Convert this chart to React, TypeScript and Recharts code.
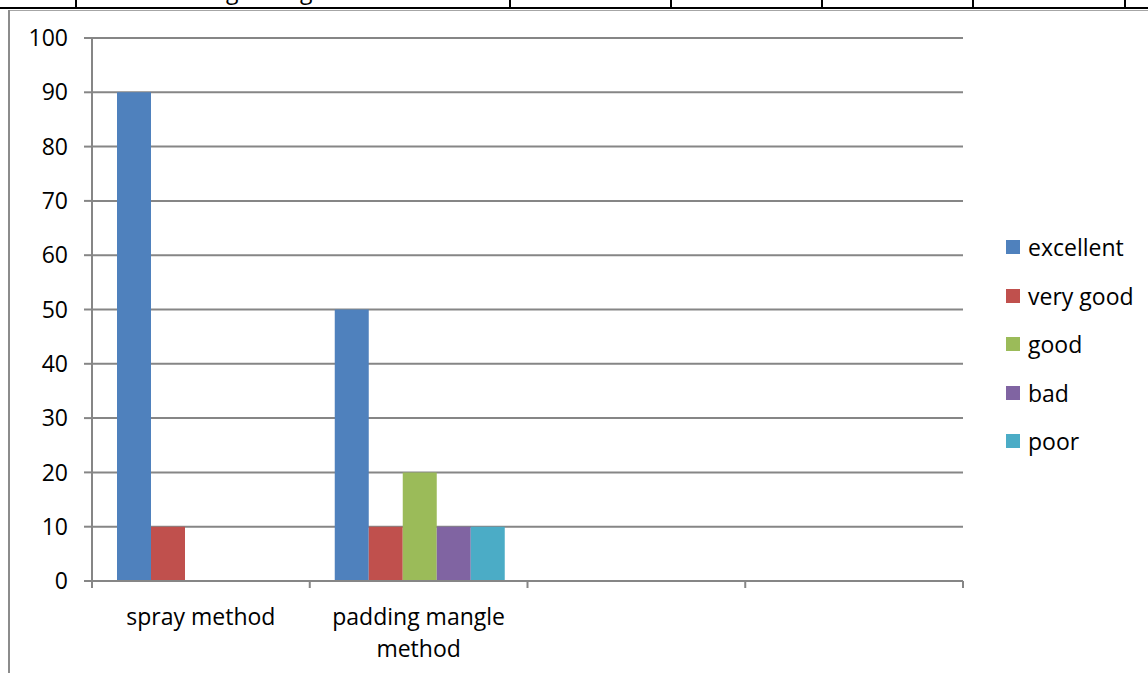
import React from 'react';
import { BarChart, Bar, XAxis, YAxis, CartesianGrid } from 'recharts';

// Rating categories on the horizontal axis (two trailing slots left empty)
const categories = ['spray method', 'padding mangle method', '', ''];

// Share of ratings (%) per method
const seriesNames = ['excellent', 'very good', 'good', 'bad', 'poor'];
const excellent = [90, 50, null, null];
const veryGood = [10, 10, null, null];
const good = [0, 20, null, null];
const bad = [0, 10, null, null];
const poor = [0, 10, null, null];
const seriesValues = [excellent, veryGood, good, bad, poor];
const seriesColors = ['#4F81BD', '#C0504D', '#9BBB59', '#8064A2', '#4BACC6'];

const yTicks = [0, 10, 20, 30, 40, 50, 60, 70, 80, 90, 100];

const FONT = '"Open Sans", sans-serif';
const FONT_SIZE = 23;
const GRID = '#868686';
const LABEL_WIDTH = 205;
const LINE_HEIGHT = 32;
const EDGE_TICK = 7;

const data = categories.map((name, i) => {
  const row: Record<string, string | number | null> = { name };
  seriesNames.forEach((s, k) => {
    row[s] = seriesValues[k][i];
  });
  return row;
});

let measureCtx: CanvasRenderingContext2D | null = null;
function textWidth(s: string): number {
  if (!measureCtx) {
    measureCtx = document.createElement('canvas').getContext('2d');
  }
  if (!measureCtx) return s.length * FONT_SIZE * 0.55;
  measureCtx.font = `${FONT_SIZE}px "Open Sans"`;
  return measureCtx.measureText(s).width;
}

// Greedy word wrap of a category label into the available band width
function wrapLabel(label: string, maxWidth: number): string[] {
  const words = label.split(' ').filter(Boolean);
  const lines: string[] = [];
  let current = '';
  words.forEach((w) => {
    const candidate = current ? `${current} ${w}` : w;
    if (current && textWidth(candidate) > maxWidth) {
      lines.push(current);
      current = w;
    } else {
      current = candidate;
    }
  });
  if (current) lines.push(current);
  return lines;
}

// Category label plus the tick marks on the category boundaries
const CategoryTick = (props: any) => {
  const { x, y, payload, index, visibleTicksCount, width } = props;
  const count = visibleTicksCount || categories.length;
  const half = Number(width) > 0 ? Number(width) / count / 2 : 0;
  const lines = wrapLabel(String(payload.value ?? ''), LABEL_WIDTH);
  const isLast = index === count - 1;
  return (
    <g>
      <line x1={x - half} x2={x - half} y1={y} y2={y + EDGE_TICK} stroke={GRID} strokeWidth={2} />
      {isLast && (
        <line x1={x + half} x2={x + half} y1={y} y2={y + EDGE_TICK} stroke={GRID} strokeWidth={2} />
      )}
      <text x={x} y={y} textAnchor="middle" fill="#000" fontSize={FONT_SIZE} fontFamily={FONT}>
        {lines.map((line, i) => (
          <tspan key={i} x={x} y={y + 44 + i * LINE_HEIGHT}>
            {line}
          </tspan>
        ))}
      </text>
    </g>
  );
};

const tableLines = [75, 509, 670, 821, 972, 1124];

export default function App() {
  return (
    <div
      style={{
        position: 'absolute',
        left: 0,
        top: 0,
        width: 1148,
        height: 673,
        overflow: 'hidden',
        background: '#fff',
        fontFamily: FONT,
      }}
    >
      {/* table row above the chart */}
      <div style={{ position: 'absolute', left: 0, top: 0, width: 1148, height: 6, overflow: 'hidden' }}>
        <span style={{ position: 'absolute', left: 226, top: -26, fontSize: FONT_SIZE, lineHeight: '32px', color: '#000' }}>g</span>
        <span style={{ position: 'absolute', left: 300, top: -26, fontSize: FONT_SIZE, lineHeight: '32px', color: '#000' }}>g</span>
      </div>
      {tableLines.map((lx) => (
        <div key={lx} style={{ position: 'absolute', left: lx, top: 0, width: 1.5, height: 8, background: '#000' }} />
      ))}
      <div style={{ position: 'absolute', left: 0, top: 6.5, width: 1148, height: 2, background: '#000' }} />
      {/* chart frame */}
      <div style={{ position: 'absolute', left: 8, top: 10, width: 1140, height: 1, background: '#a6a6a6' }} />
      <div style={{ position: 'absolute', left: 8, top: 10, width: 1.5, height: 663, background: '#8c8c8c' }} />

      <div style={{ position: 'absolute', left: 0, top: 0 }}>
        <BarChart
          width={1148}
          height={673}
          data={data}
          margin={{ top: 38, right: 185, bottom: 22, left: 32 }}
          barCategoryGap={25}
          barGap={0}
        >
          <CartesianGrid vertical={false} stroke={GRID} strokeWidth={2} />
          <XAxis
            dataKey="name"
            height={70}
            axisLine={{ stroke: GRID, strokeWidth: 2 }}
            tickLine={false}
            tickSize={0}
            tickMargin={0}
            interval={0}
            tick={<CategoryTick />}
          />
          <YAxis
            width={60}
            domain={[0, 100]}
            ticks={yTicks}
            interval={0}
            tickSize={8}
            tickMargin={16}
            tickLine={{ stroke: GRID, strokeWidth: 2 }}
            axisLine={{ stroke: GRID, strokeWidth: 2 }}
            tick={{ fill: '#000', fontSize: FONT_SIZE, fontFamily: FONT }}
          />
          {seriesNames.map((s, k) => (
            <Bar key={s} dataKey={s} fill={seriesColors[k]} isAnimationActive={false} />
          ))}
        </BarChart>
      </div>

      {/* legend */}
      {seriesNames.map((s, k) => (
        <div
          key={s}
          style={{
            position: 'absolute',
            left: 1006,
            top: 247 + k * 48.5 - 16,
            height: 32,
            display: 'flex',
            alignItems: 'center',
            fontSize: FONT_SIZE,
            color: '#000',
            whiteSpace: 'nowrap',
          }}
        >
          <span style={{ display: 'inline-block', width: 14, height: 14, background: seriesColors[k], marginRight: 8 }} />
          <span>{s}</span>
        </div>
      ))}
    </div>
  );
}
